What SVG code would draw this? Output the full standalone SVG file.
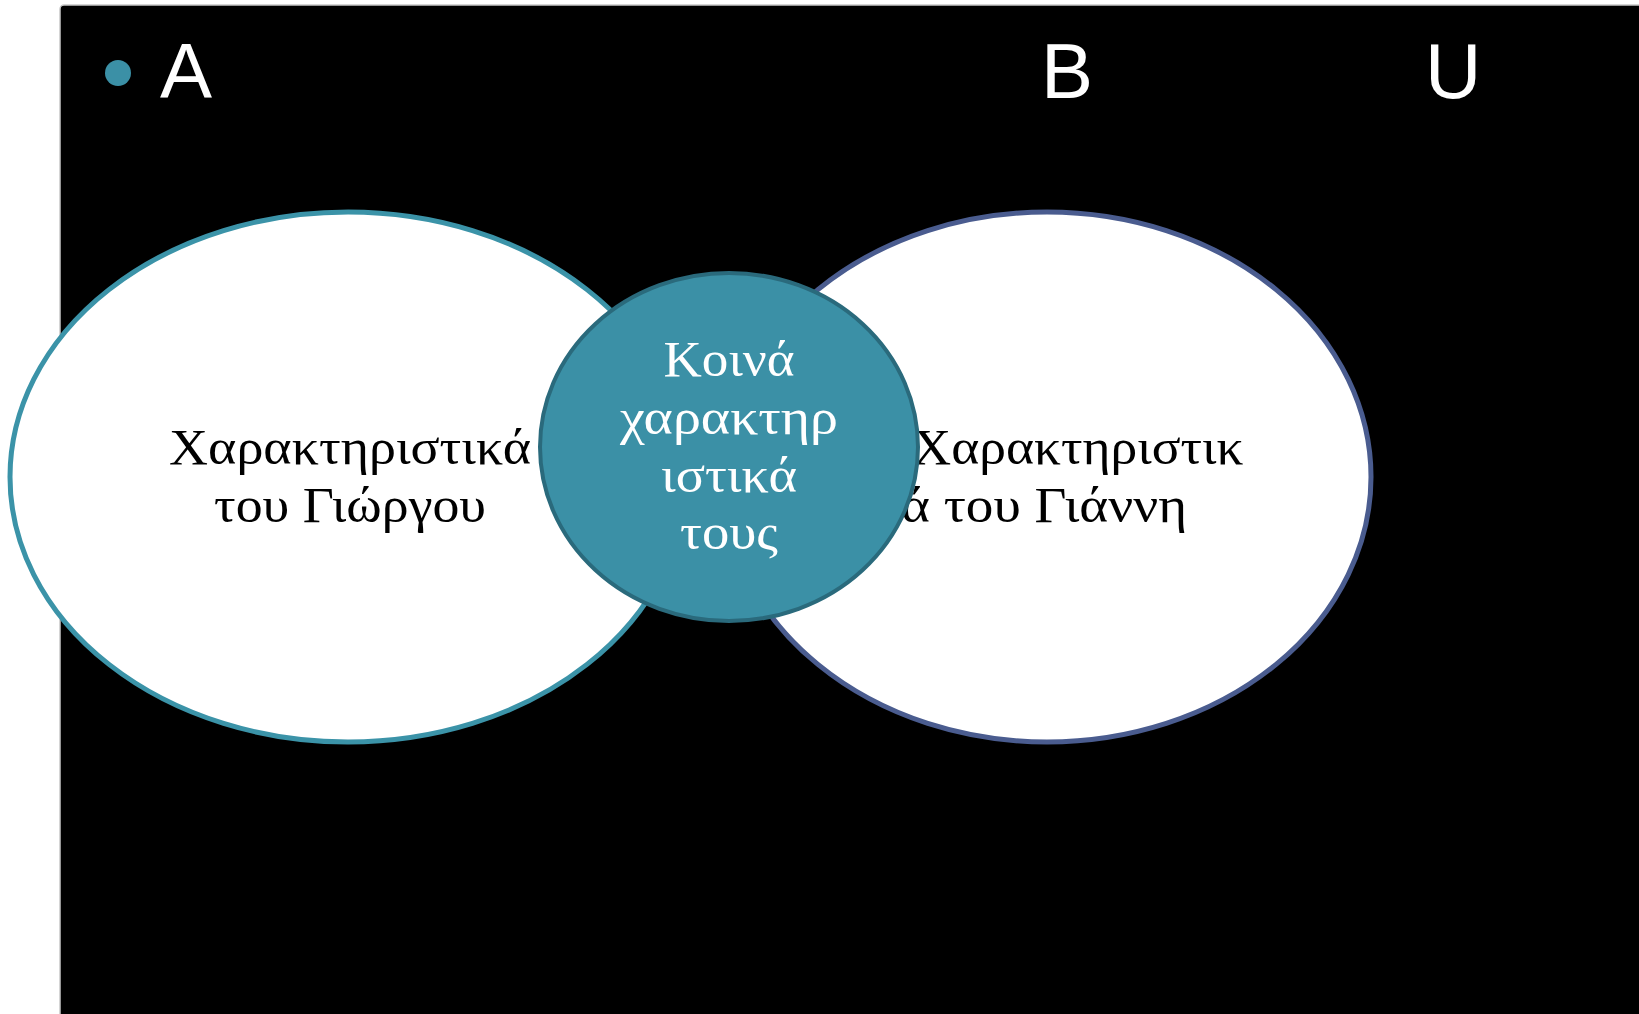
<svg xmlns="http://www.w3.org/2000/svg" width="1639" height="1014" viewBox="0 0 1639 1014">
<style>
.lbl{font-family:"Liberation Sans","Open Sans",sans-serif;font-size:78px;fill:#ffffff}
.t{font-family:"Liberation Serif","DejaVu Serif",serif;font-size:50px;text-anchor:middle}
.dark{fill:#000000}
.light{fill:#ffffff}
</style>
<rect x="0" y="0" width="1639" height="1014" fill="#ffffff"/>
<rect x="60" y="5" width="1600" height="1030" rx="4" fill="#000000" stroke="#c8c8c8" stroke-width="1.5"/>
<g id="title">
<circle cx="118" cy="73" r="13" fill="#3b90a6"/>
<text class="lbl" x="160" y="98">A</text>
<text class="lbl" x="1041" y="98">B</text>
<text class="lbl" x="1425" y="98">U</text>
</g>
<g id="connectors"></g>
<g id="setA">
<ellipse cx="348" cy="477" rx="338" ry="265" fill="#ffffff" stroke="#3b93a8" stroke-width="5"/>
<text class="t dark" x="350" y="464" textLength="362" lengthAdjust="spacingAndGlyphs">Χαρακτηριστικά</text>
<text class="t dark" x="350" y="522" textLength="272" lengthAdjust="spacingAndGlyphs">του Γιώργου</text>
</g>
<g id="setB">
<ellipse cx="1047" cy="477" rx="324" ry="265" fill="#ffffff" stroke="#4a5c8f" stroke-width="5"/>
<text class="t dark" x="1078" y="464" textLength="331" lengthAdjust="spacingAndGlyphs">Χαρακτηριστικ</text>
<text class="t dark" x="1044" y="522" textLength="286" lengthAdjust="spacingAndGlyphs">ά του Γιάννη</text>
</g>
<g id="common">
<ellipse cx="729" cy="447" rx="189" ry="174" fill="#3b90a6" stroke="#2a6a7c" stroke-width="4"/>
<text class="t light" x="729" y="376" textLength="131" lengthAdjust="spacingAndGlyphs">Κοινά</text>
<text class="t light" x="729" y="434" textLength="218" lengthAdjust="spacingAndGlyphs">χαρακτηρ</text>
<text class="t light" x="729" y="492" textLength="136" lengthAdjust="spacingAndGlyphs">ιστικά</text>
<text class="t light" x="729" y="549" textLength="98" lengthAdjust="spacingAndGlyphs">τους</text>
</g>
</svg>
